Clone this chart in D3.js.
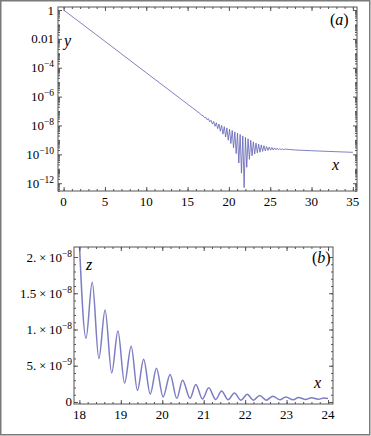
<!DOCTYPE html>
<html>
<head>
<meta charset="utf-8">
<script src="https://cdn.jsdelivr.net/npm/d3@7"></script>
<style>
    html, body { margin: 0; padding: 0; background: #fff; }
    svg { display: block; }
    .tick-label { font-family: "Liberation Serif", "DejaVu Serif", serif; font-size: 13px; fill: #000; }
    .var-label { font-family: "Liberation Serif", "DejaVu Serif", serif; font-style: italic; font-size: 16px; fill: #000; }
    .frame { fill: none; stroke: #555; stroke-width: 1; }
    .ticks line { stroke: #555; stroke-width: 1; }
</style>
</head>
<body>
<div id="chart"></div>
<script>
(function() {
    var width = 371,
    height = 436;

    // panel (a): y(x) on a log axis
    var topX = [0, 5, 10, 15, 16.4,
        16.56, 16.72, 16.88, 17.04, 17.2, 17.36, 17.52, 17.68, 17.84, 18.0,
        18.16, 18.32, 18.48, 18.64, 18.8, 18.96, 19.12, 19.28, 19.44, 19.6,
        19.76, 19.92, 20.08, 20.24, 20.4, 20.56, 20.72, 20.88, 21.04, 21.2,
        21.36, 21.52, 21.68, 21.84, 22.0, 22.16, 22.32, 22.48, 22.64, 22.8,
        22.96, 23.12, 23.28, 23.44, 23.6, 23.76, 23.92, 24.08, 24.24, 24.4,
        24.56, 24.72, 24.88, 25.04, 25.2, 25.36, 25.52, 25.68, 25.84, 26.0,
        26.16, 26.32, 26.48, 26.64, 26.8, 27.2, 28, 30, 32, 35];
    var topY = [1, 6.8e-3, 4.5e-5, 3.0e-7, 7.4e-8,
        6.3e-8, 5.0e-8, 4.8e-8, 3.5e-8, 3.7e-8, 2.5e-8, 2.95e-8, 1.78e-8, 2.3e-8, 1.26e-8,
        1.9e-8, 8.7e-9, 1.55e-8, 6.0e-9, 1.26e-8, 4.0e-9, 1.02e-8, 2.5e-9, 8.3e-9, 1.6e-9,
        6.8e-9, 9.5e-10, 5.5e-9, 5.6e-10, 4.5e-9, 2.8e-10, 3.6e-9, 1.12e-10, 2.95e-9, 2.5e-11,
        2.4e-9, 5.0e-12, 1.9e-9, 5.0e-13, 1.5e-9, 1.26e-11, 1.2e-9, 4.5e-11, 9.5e-10, 7.9e-11,
        7.4e-10, 1.05e-10, 6.0e-10, 1.26e-10, 5.1e-10, 1.4e-10, 4.5e-10, 1.6e-10, 4.0e-10, 1.74e-10,
        3.5e-10, 1.86e-10, 3.2e-10, 1.95e-10, 3.0e-10, 2.0e-10, 2.8e-10, 2.05e-10, 2.7e-10, 2.05e-10,
        2.5e-10, 2.1e-10, 2.4e-10, 2.1e-10, 2.3e-10, 2.2e-10, 2.0e-10, 1.78e-10, 1.6e-10, 1.38e-10];

    var topXTicks = [0, 5, 10, 15, 20, 25, 30, 35];
    var topYTicks = [1, 1e-2, 1e-4, 1e-6, 1e-8, 1e-10, 1e-12];
    var topYLabels = ["1", "0.01", "10^\u22124", "10^\u22126", "10^\u22128", "10^\u221210", "10^\u221212"];

    // panel (b): z(x), peaks and troughs of the oscillation
    var botX = [17.98, 18.16, 18.31, 18.47, 18.62, 18.78, 18.93, 19.09, 19.25, 19.4,
        19.55, 19.71, 19.86, 20.02, 20.19, 20.35, 20.49, 20.67, 20.81, 20.97,
        21.12, 21.29, 21.43, 21.59, 21.74, 21.9, 22.05, 22.2, 22.35, 22.51,
        22.67, 22.84, 22.98, 23.16, 23.29, 23.46, 23.6, 23.77, 23.9, 24.0];
    var botZ = [2.45e-8, 8.8e-9, 1.65e-8, 6.0e-9, 1.27e-8, 4.0e-9, 9.8e-9, 2.6e-9, 7.7e-9, 1.6e-9,
        5.9e-9, 1.1e-9, 4.65e-9, 7.0e-10, 3.8e-9, 5.0e-10, 3.0e-9, 5.0e-10, 2.4e-9, 4.0e-10,
        1.95e-9, 3.5e-10, 1.5e-9, 3.0e-10, 1.25e-9, 2.5e-10, 1.05e-9, 2.5e-10, 9.0e-10, 2.5e-10,
        8.0e-10, 3.0e-10, 7.0e-10, 3.0e-10, 6.2e-10, 3.5e-10, 5.8e-10, 3.8e-10, 5.5e-10, 4.8e-10];

    var botXTicks = [18, 19, 20, 21, 22, 23, 24];
    var botYTicks = [0, 5e-9, 1e-8, 1.5e-8, 2e-8];
    var botYLabels = ["0", "5.\u2009\u00d7\u200910^\u22129", "1.\u2009\u00d7\u200910^\u22128",
        "1.5\u2009\u00d7\u200910^\u22128", "2.\u2009\u00d7\u200910^\u22128"];

    var lineColor = "#6161b4";

    var svg = d3.select("#chart").append("svg")
        .attr("width", width)
        .attr("height", height);

    // outer grey border
    svg.append("rect")
        .attr("x", 0.75).attr("y", 0.75)
        .attr("width", width - 2).attr("height", height - 2)
        .attr("fill", "#fff")
        .attr("stroke", "#7a7a7a")
        .attr("stroke-width", 1.5);

    var boxA = {left: 58, right: 357, top: 7, bottom: 191};
    var boxB = {left: 74, right: 333, top: 247, bottom: 404};

    var xA = d3.scaleLinear().domain([-0.68, 35.5]).range([boxA.left, boxA.right]);
    var yA = d3.scaleLog().domain([Math.pow(10, -12.54), Math.pow(10, 0.208)]).range([boxA.bottom, boxA.top]);

    var xB = d3.scaleLinear().domain([17.87, 24.12]).range([boxB.left, boxB.right]);
    var yB = d3.scaleLinear().domain([-0.28e-9, 2.138e-8]).range([boxB.bottom, boxB.top]);

    //ticks on all four sides pointing inward
    function frameTicks(box, x, y, xMajor, xMinor, yMajor, yMinor) {
        var sides = [
            {axis: d3.axisBottom, scale: x, at: "translate(0," + box.bottom + ")"},
            {axis: d3.axisTop, scale: x, at: "translate(0," + box.top + ")"},
            {axis: d3.axisLeft, scale: y, at: "translate(" + box.left + ",0)"},
            {axis: d3.axisRight, scale: y, at: "translate(" + box.right + ",0)"}
        ];
        sides.forEach(function(s, i) {
            var major = i < 2 ? xMajor : yMajor;
            var minor = i < 2 ? xMinor : yMinor;
            [[minor, -2], [major, -4]].forEach(function(set) {
                svg.append("g")
                    .attr("class", "ticks")
                    .attr("transform", s.at)
                    .call(s.axis(s.scale).tickValues(set[0]).tickSizeInner(set[1]).tickSizeOuter(0).tickFormat(""))
                    .call(function(g) { g.select(".domain").remove(); });
            });
        });
        svg.append("rect")
            .attr("class", "frame")
            .attr("x", box.left).attr("y", box.top)
            .attr("width", box.right - box.left)
            .attr("height", box.bottom - box.top);
    }

    function writeLabel(sel, txt) {
        var parts = txt.split("^");
        sel.append("tspan").text(parts[0]);
        if (parts[1]) {
            sel.append("tspan")
                .attr("dy", "-0.5em")
                .style("font-size", "9.5px")
                .text(parts[1]);
        }
    }

    function clip(id, box) {
        svg.append("clipPath").attr("id", id)
            .append("rect")
            .attr("x", box.left).attr("y", box.top)
            .attr("width", box.right - box.left)
            .attr("height", box.bottom - box.top);
    }

    // ---- panel (a)
    var minorA = d3.range(0, 36, 1);
    var minorLogA = [];
    for (var k = -13; k <= 0; k++) {
        for (var m = 2; m < 10; m++) {
            var v = m * Math.pow(10, k);
            if (v > yA.domain()[0] && v < yA.domain()[1]) minorLogA.push(v);
        }
        if (k % 2 !== 0 && k > -13) minorLogA.push(Math.pow(10, k));
    }

    clip("clipA", boxA);
    var lineA = d3.line()
        .x(function(d, i) { return xA(topX[i]); })
        .y(function(d) { return yA(d); });

    svg.append("path")
        .datum(topY)
        .attr("clip-path", "url(#clipA)")
        .attr("fill", "none")
        .attr("stroke", lineColor)
        .attr("stroke-width", 0.8)
        .attr("d", lineA);

    frameTicks(boxA, xA, yA, topXTicks, minorA, topYTicks, minorLogA);

    svg.selectAll("text.xa")
        .data(topXTicks)
        .enter().append("text")
        .attr("class", "tick-label xa")
        .attr("x", function(d) { return xA(d); })
        .attr("y", 206)
        .attr("text-anchor", "middle")
        .text(function(d) { return d; });

    svg.selectAll("text.ya")
        .data(topYTicks)
        .enter().append("text")
        .attr("class", "tick-label ya")
        .attr("x", boxA.left - 4)
        .attr("y", function(d) { return yA(d) + 4.5; })
        .attr("text-anchor", "end")
        .each(function(d, i) { writeLabel(d3.select(this), topYLabels[i]); });

    svg.append("text").attr("class", "var-label").attr("x", 64).attr("y", 46).text("y");
    svg.append("text").attr("class", "var-label").attr("x", 332).attr("y", 170).text("x");
    svg.append("text").attr("class", "var-label").attr("x", 330).attr("y", 25)
        .style("font-style", "normal")
        .call(function(t) {
            t.append("tspan").text("(");
            t.append("tspan").style("font-style", "italic").text("a");
            t.append("tspan").text(")");
        });

    // ---- panel (b)
    clip("clipB", boxB);
    var lineB = d3.line()
        .curve(d3.curveMonotoneX)
        .x(function(d, i) { return xB(botX[i]); })
        .y(function(d) { return yB(d); });

    svg.append("path")
        .datum(botZ)
        .attr("clip-path", "url(#clipB)")
        .attr("fill", "none")
        .attr("stroke", "#7d7dc4")
        .attr("stroke-width", 1.5)
        .attr("d", lineB);

    frameTicks(boxB, xB, yB, botXTicks, d3.range(18, 24.01, 0.2), botYTicks, d3.range(0, 2.1e-8, 1e-9));

    svg.selectAll("text.xb")
        .data(botXTicks)
        .enter().append("text")
        .attr("class", "tick-label xb")
        .attr("x", function(d) { return xB(d); })
        .attr("y", 419)
        .attr("text-anchor", "middle")
        .text(function(d) { return d; });

    svg.selectAll("text.yb")
        .data(botYTicks)
        .enter().append("text")
        .attr("class", "tick-label yb")
        .attr("x", boxB.left - 2)
        .attr("y", function(d) { return yB(d) + 4.5; })
        .attr("text-anchor", "end")
        .each(function(d, i) { writeLabel(d3.select(this), botYLabels[i]); });

    svg.append("text").attr("class", "var-label").attr("x", 86).attr("y", 270).text("z");
    svg.append("text").attr("class", "var-label").attr("x", 314).attr("y", 388).text("x");
    svg.append("text").attr("class", "var-label").attr("x", 312).attr("y", 263)
        .style("font-style", "normal")
        .call(function(t) {
            t.append("tspan").text("(");
            t.append("tspan").style("font-style", "italic").text("b");
            t.append("tspan").text(")");
        });
})();
</script>
</body>
</html>
